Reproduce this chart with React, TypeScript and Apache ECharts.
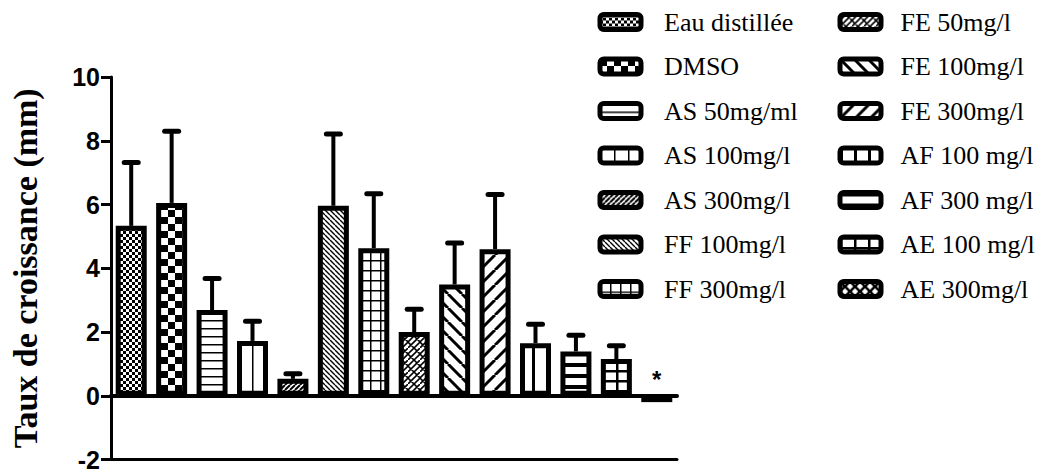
import React, { useEffect, useRef } from 'react';
import * as echarts from 'echarts';

const categories = [
  'Eau distillée', 'DMSO', 'AS 50mg/ml', 'AS 100mg/l', 'AS 300mg/l', 'FF 100mg/l', 'FF 300mg/l',
  'FE 50mg/l', 'FE 100mg/l', 'FE 300mg/l', 'AF 100 mg/l', 'AF 300 mg/l', 'AE 100 mg/l', 'AE 300mg/l',
];
const means = [5.33, 6.05, 2.69, 1.72, 0.53, 5.96, 4.63, 2.0, 3.49, 4.6, 1.65, 1.39, 1.15, -0.2];
const errors = [1.99, 2.25, 0.99, 0.62, 0.16, 2.25, 1.71, 0.71, 1.3, 1.71, 0.59, 0.51, 0.42, 0];
const significance = ['', '', '', '', '', '', '', '', '', '', '', '', '', '*'];
const yMin = -2;
const yMax = 10;
const yInterval = 2;
const yTitle = 'Taux de croissance (mm)';
const legendLeftColumn = categories.slice(0, 7);
const legendRightColumn = categories.slice(7);

type Draw = (ctx: CanvasRenderingContext2D, w: number, h: number) => void;

function makePattern(w: number, h: number, draw: Draw) {
  const c = document.createElement('canvas');
  c.width = w;
  c.height = h;
  const ctx = c.getContext('2d') as CanvasRenderingContext2D;
  ctx.fillStyle = '#fff';
  ctx.fillRect(0, 0, w, h);
  ctx.fillStyle = '#000';
  ctx.strokeStyle = '#000';
  draw(ctx, w, h);
  return { type: 'pattern', image: c, repeat: 'repeat', imageWidth: w, imageHeight: h } as any;
}

const checker = (cell: number) =>
  makePattern(cell * 2, cell * 2, (ctx) => {
    ctx.fillRect(0, 0, cell, cell);
    ctx.fillRect(cell, cell, cell, cell);
  });
const hLines = (step: number, lw: number) =>
  makePattern(step, step, (ctx, w) => {
    ctx.fillRect(0, 0, w, lw);
  });
const vLines = (step: number, lw: number) =>
  makePattern(step, step, (ctx, w, h) => {
    ctx.fillRect(0, 0, lw, h);
  });
const diag = (step: number, lw: number, dir: number) =>
  makePattern(step, step, (ctx, w, h) => {
    ctx.lineWidth = lw;
    ctx.beginPath();
    for (let k = -1; k <= 1; k++) {
      if (dir > 0) {
        ctx.moveTo(k * w, h);
        ctx.lineTo(k * w + w, 0);
      } else {
        ctx.moveTo(k * w, 0);
        ctx.lineTo(k * w + w, h);
      }
    }
    ctx.stroke();
  });
const grid = (sx: number, sy: number, lw: number) =>
  makePattern(sx, sy, (ctx, w, h) => {
    ctx.fillRect(0, 0, w, lw);
    ctx.fillRect(0, 0, lw, h);
  });
const weave = () =>
  makePattern(12, 12, (ctx) => {
    ctx.lineWidth = 1.6;
    ctx.beginPath();
    ctx.moveTo(0, 6); ctx.lineTo(6, 0);
    ctx.moveTo(6, 12); ctx.lineTo(12, 6);
    ctx.moveTo(6, 0); ctx.lineTo(12, 6);
    ctx.moveTo(0, 6); ctx.lineTo(6, 12);
    ctx.moveTo(0, 12); ctx.lineTo(12, 0);
    ctx.stroke();
  });
const crossX = () =>
  makePattern(10, 10, (ctx) => {
    ctx.lineWidth = 2.5;
    ctx.beginPath();
    ctx.moveTo(0, 0); ctx.lineTo(10, 10);
    ctx.moveTo(10, 0); ctx.lineTo(0, 10);
    ctx.stroke();
  });

function buildPatterns() {
  return [
    checker(3),
    checker(7),
    hLines(8, 1.5),
    vLines(14, 1.5),
    diag(5, 2, 1),
    diag(5, 1.4, -1),
    grid(10, 10, 1.5),
    weave(),
    diag(14, 3, -1),
    diag(15, 3, 1),
    vLines(14, 3),
    hLines(11, 4),
    grid(14, 10, 2.5),
    crossX(),
  ];
}

export default function App() {
  const ref = useRef<HTMLDivElement>(null);
  useEffect(() => {
    document.body.style.margin = '0';
    const chart = echarts.init(ref.current as HTMLDivElement, undefined, { renderer: 'svg' });
    const patterns = buildPatterns();

    const barSeries = categories.map((name, i) => ({
      name,
      type: 'bar',
      stack: 'all',
      barWidth: 31,
      xAxisIndex: 0,
      yAxisIndex: 0,
      data: means.map((v, j) => (j === i ? v : '-')),
      itemStyle: { color: patterns[i], borderColor: '#000', borderWidth: 5 },
      z: 3,
    }));

    const legendBase = {
      orient: 'vertical',
      padding: 0,
      itemWidth: 41,
      itemHeight: 15,
      itemGap: 18.5,
      icon: 'roundRect',
      selectedMode: false,
      itemStyle: { borderColor: '#000', borderWidth: 5 },
    };
    const legendText = (pad: number) => ({
      fontFamily: 'Liberation Serif',
      fontSize: 26,
      color: '#000',
      padding: [0, 0, 0, pad],
    });

    chart.setOption({
      animation: false,
      backgroundColor: '#fff',
      grid: { left: 97, right: 366, top: 77, bottom: 11, containLabel: false },
      legend: [
        { ...legendBase, data: legendLeftColumn, left: 597.5, top: 9, textStyle: legendText(18) },
        { ...legendBase, data: legendRightColumn, left: 837.5, top: 9, textStyle: legendText(14.5) },
      ],
      xAxis: [
        {
          type: 'category',
          data: categories,
          position: 'bottom',
          axisLine: { onZero: true, lineStyle: { color: '#000', width: 4 } },
          axisTick: { show: false },
          axisLabel: { show: false },
          z: 4,
        },
        {
          type: 'category',
          data: categories,
          position: 'bottom',
          axisLine: { onZero: false, lineStyle: { color: '#000', width: 3 } },
          axisTick: { show: false },
          axisLabel: { show: false },
        },
      ],
      yAxis: {
        type: 'value',
        min: yMin,
        max: yMax,
        interval: yInterval,
        name: yTitle,
        nameLocation: 'middle',
        nameGap: 69,
        nameTextStyle: { fontFamily: 'Liberation Serif', fontWeight: 'bold', fontSize: 34, color: '#000' },
        axisLine: { show: true, lineStyle: { color: '#000', width: 3 } },
        axisTick: { show: true, length: 10, lineStyle: { color: '#000', width: 3 } },
        splitLine: { show: false },
        axisLabel: { fontFamily: 'Liberation Sans', fontWeight: 'bold', fontSize: 25, color: '#000', margin: 11 },
      },
      series: [
        ...barSeries,
        {
          type: 'custom',
          xAxisIndex: 0,
          yAxisIndex: 0,
          z: 2,
          data: means.map((m, i) => [i, m, m + errors[i], errors[i]]),
          renderItem: (params: any, api: any) => {
            if (!(api.value(3) > 0)) return null;
            const i = api.value(0);
            const lo = api.coord([i, api.value(1)]);
            const hi = api.coord([i, api.value(2)]);
            return {
              type: 'group',
              children: [
                { type: 'line', shape: { x1: lo[0], y1: lo[1], x2: hi[0], y2: hi[1] }, style: { stroke: '#000', lineWidth: 4 } },
                { type: 'line', shape: { x1: hi[0] - 7, y1: hi[1], x2: hi[0] + 7, y2: hi[1] }, style: { stroke: '#000', lineWidth: 5, lineCap: 'round' } },
              ],
            };
          },
        },
        {
          type: 'custom',
          xAxisIndex: 0,
          yAxisIndex: 0,
          z: 5,
          data: significance.map((s, i) => [i, 0, s]),
          renderItem: (params: any, api: any) => {
            const s = significance[params.dataIndex];
            if (!s) return null;
            const p = api.coord([api.value(0), 0]);
            return {
              type: 'text',
              x: p[0],
              y: p[1] - 4,
              style: { text: s, fontFamily: 'Liberation Sans', fontWeight: 'bold', fontSize: 24, fill: '#000', align: 'center', verticalAlign: 'bottom' },
            };
          },
        },
      ],
    } as any);
    return () => chart.dispose();
  }, []);
  return <div ref={ref} style={{ width: 1043, height: 472 }} />;
}
